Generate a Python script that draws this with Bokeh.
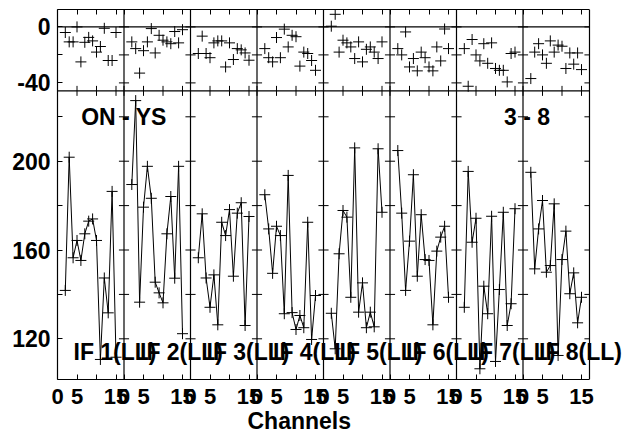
from bokeh.plotting import figure
from bokeh.models import Range1d, LinearAxis, FixedTicker, Span, Label, Title
from bokeh.embed import file_html
from bokeh.resources import INLINE

# ---------------- data ----------------
IF_NAMES = ["IF 1(LL)", "IF 2(LL)", "IF 3(LL)", "IF 4(LL)",
            "IF 5(LL)", "IF 6(LL)", "IF 7(LL)", "IF 8(LL)"]
CHANNELS = [2, 3, 4, 5, 6, 7, 8, 9, 10, 11, 12, 13, 14, 15]

AMP_IF1 = [141.8, 201.8, 156.5, 164.3, 155.3, 167.3, 173.0, 174.0, 164.3, 110.7, 147.4, 131.7, 186.4, 111.7]
AMP_IF2 = [189.5, 227.3, 136.5, 179.3, 197.7, 183.3, 145.5, 140.7, 136.2, 167.3, 184.1, 147.3, 197.7, 122.3]
AMP_IF3 = [156.5, 176.3, 147.4, 134.2, 148.8, 126.3, 172.5, 166.5, 178.2, 148.2, 176.6, 181.3, 126.0, 175.1]
AMP_IF4 = [184.9, 169.5, 149.5, 170.7, 166.5, 131.3, 193.6, 131.8, 124.2, 130.5, 125.0, 172.5, 119.7, 139.5]
AMP_IF5 = [131.5, 115.5, 158.3, 177.8, 174.8, 138.7, 206.0, 132.0, 145.2, 125.0, 132.0, 125.4, 205.6, 177.0]
AMP_IF6 = [204.8, 176.6, 141.8, 164.0, 193.9, 148.2, 175.9, 155.7, 155.3, 126.3, 159.5, 165.8, 170.7, 138.7]
AMP_IF7 = [134.2, 195.4, 163.5, 174.3, 106.5, 143.7, 131.3, 175.2, 109.8, 142.2, 177.0, 126.0, 135.8, 178.6]
AMP_IF8 = [195.0, 151.5, 169.5, 182.3, 150.0, 153.0, 180.8, 112.5, 155.7, 168.5, 140.3, 149.7, 127.2, 138.7]

RES_IF1 = [-4.0, -10.7, -10.7, 0.0, -25.0, -11.0, -7.5, -10.0, -18.0, -14.0, -1.0, -24.0, -24.0, -4.0]
RES_IF2 = [-10.7, -15.5, -33.0, -17.0, -10.7, -1.2, -18.6, -6.0, -9.5, -10.7, -12.0, -3.3, -11.4, -2.0]
RES_IF3 = [-19.0, -6.6, -19.0, -22.0, -11.4, -10.0, -10.0, -28.6, -11.4, -23.3, -15.5, -16.4, -18.6, -23.8]
RES_IF4 = [-15.5, -22.0, -25.0, -7.6, -22.0, -1.6, -14.3, -6.0, -7.0, -28.0, -18.0, -19.0, -24.0, -31.0]
RES_IF5 = [0.5, 9.0, -18.0, -9.5, -11.4, -14.3, -22.6, -10.7, -25.0, -16.0, -14.3, -18.0, -22.6, -10.7]
RES_IF6 = [-15.5, -20.0, -3.6, -28.6, -22.6, -31.4, -18.0, -22.0, -28.6, -31.4, -14.3, -24.3, -1.5, -15.5]
RES_IF7 = [-15.5, -42.4, -9.0, -20.0, -24.3, -12.0, -26.0, -11.4, -29.7, -31.0, -31.0, -39.3, -19.0, -18.0]
RES_IF8 = [-36.9, -18.0, -12.0, -20.0, -26.0, -10.0, -18.0, -13.0, -13.8, -29.7, -18.6, -26.6, -18.6, -30.5]

AMP = [AMP_IF1, AMP_IF2, AMP_IF3, AMP_IF4, AMP_IF5, AMP_IF6, AMP_IF7, AMP_IF8]
RES = [RES_IF1, RES_IF2, RES_IF3, RES_IF4, RES_IF5, RES_IF6, RES_IF7, RES_IF8]

X_TICKS = [0, 5, 10, 15]
X_TICK_LABELS = ["0", "5", "", "15"]
AMP_TICKS = [120, 140, 160, 180, 200, 220]
AMP_TICK_LABELS = ["120", "", "160", "", "200", ""]
RES_TICKS = [0, -20, -40]
RES_TICK_LABELS = ["0", "", "-40"]
SOURCE_TEXT = "ON - YS"
BASELINE_TEXT = "3 - 8"
X_TITLE = "Channels"

# ---------------- geometry / style ----------------
FONT = "Liberation Sans"
YTICK_FS = "23px"
XTICK_FS = "22px"
TXT_FS = "23px"
W = 17.05                 # channel units per IF panel
NP = len(IF_NAMES)
PANELS_W = 532            # pixel width of the boxed plot area
FRAME_W, FRAME_H = 571, 370
PX_X = PANELS_W / (NP * W)
X_END = NP * W
A_PX = 2.22               # px per amplitude unit
A_BOT = 101.67
A_TOP = A_BOT + FRAME_H / A_PX
R_PX = 1.4                # px per residual unit
R_TOP = 12.43
R_BOT = R_TOP - FRAME_H / R_PX
SPLIT_R = -45.7           # residual value at the panel boundary
LW = 1.2


def res_to_amp(v):
    return round(A_BOT + (v - R_BOT) * (A_TOP - A_BOT) / (R_TOP - R_BOT), 4)


p = figure(frame_width=FRAME_W, frame_height=FRAME_H,
           x_range=Range1d(0, X_END + (FRAME_W - PANELS_W) / PX_X),
           y_range=Range1d(A_BOT, A_TOP),
           output_backend="svg", toolbar_location=None,
           x_axis_location=None, y_axis_location=None,
           min_border_left=57, min_border_right=0, min_border_top=9, min_border_bottom=53)
p.extra_y_ranges = {"res": Range1d(R_BOT, R_TOP)}
p.grid.visible = False
p.outline_line_color = None

all_xticks = [i * W + t for i in range(NP) for t in X_TICKS]
all_xlabels = {}
for i in range(NP):
    for t, lab in zip(X_TICKS, X_TICK_LABELS):
        all_xlabels[i * W + t] = lab

y_ticks = list(AMP_TICKS) + [res_to_amp(v) for v in RES_TICKS]
y_labels = {t: l for t, l in zip(AMP_TICKS, AMP_TICK_LABELS)}
for v, l in zip(RES_TICKS, RES_TICK_LABELS):
    y_labels[res_to_amp(v)] = l


def axis(ticks, labels=None, standoff=0, bounds="auto", fs=XTICK_FS):
    ax = LinearAxis(ticker=FixedTicker(ticks=ticks), major_tick_in=5, major_tick_out=0,
                    minor_tick_line_color=None, axis_line_color="black", axis_line_width=LW,
                    major_tick_line_color="black", major_label_standoff=standoff,
                    bounds=bounds)
    if labels is None:
        ax.major_label_text_font_size = "0px"
        ax.major_label_text_alpha = 0
    else:
        ax.major_label_overrides = labels
        ax.major_label_text_font = FONT
        ax.major_label_text_font_style = "bold"
        ax.major_label_text_font_size = fs
        ax.major_label_text_color = "black"
    return ax


p.add_layout(axis(y_ticks, y_labels, 7, fs=YTICK_FS), "left")
p.add_layout(axis(all_xticks, bounds=(0, X_END)), "above")
bx = axis(all_xticks, all_xlabels, 9, bounds=(0, X_END))
bx.major_label_text_line_height = 0.9
p.add_layout(bx, "below")
p.add_layout(Title(text=X_TITLE, align="left", offset=190, standoff=0,
                   vertical_align="middle",
                   text_font=FONT, text_font_style="bold", text_font_size=TXT_FS,
                   text_color="black", text_line_height=1.0), "below")

# IF separators and right edge of the box
for i in range(1, NP + 1):
    p.add_layout(Span(location=i * W, dimension="height", line_color="black", line_width=LW))

# zero line and boundary between the two panels
p.segment(x0=[0, 0], y0=[0, SPLIT_R], x1=[X_END, X_END], y1=[0, SPLIT_R],
          line_color="black", line_width=LW, y_range_name="res")

# ticks crossing separators (only inward on the right edge) and the panel boundary
sx0, sx1, sya = [], [], []
rx0, rx1, syr = [], [], []
for i in range(1, NP + 1):
    right = i * W + (1.3 if i < NP else 0)
    for t in AMP_TICKS:
        sx0.append(i * W - 1.3); sx1.append(right); sya.append(t)
    for t in RES_TICKS:
        rx0.append(i * W - 1.3); rx1.append(right); syr.append(t)
p.segment(x0=sx0, y0=sya, x1=sx1, y1=sya, line_color="black", line_width=1)
p.segment(x0=rx0, y0=syr, x1=rx1, y1=syr, line_color="black", line_width=1, y_range_name="res")
d = 5 / R_PX
p.segment(x0=all_xticks, y0=[SPLIT_R - d] * len(all_xticks), x1=all_xticks,
          y1=[SPLIT_R + d] * len(all_xticks), line_color="black", line_width=1, y_range_name="res")

# data
for i in range(NP):
    xs = [i * W + c for c in CHANNELS]
    p.line(xs, AMP[i], line_color="black", line_width=1)
    p.scatter(xs, AMP[i], marker="cross", size=11, line_color="black", line_width=1)
    p.scatter(xs, RES[i], marker="cross", size=11, line_color="black", line_width=1,
              y_range_name="res")

# texts
for i, name in enumerate(IF_NAMES):
    p.add_layout(Label(x=i * W + 4.1, y=114, text=name, text_font=FONT, text_font_style="bold",
                       text_font_size=TXT_FS, text_color="black", text_baseline="middle"))
p.add_layout(Label(x=6.06, y=220, text=SOURCE_TEXT, text_font=FONT, text_font_style="bold",
                   text_font_size=TXT_FS, text_color="black", text_baseline="middle"))
p.add_layout(Label(x=114.5, y=220, text=BASELINE_TEXT, text_font=FONT, text_font_style="bold",
                   text_font_size=TXT_FS, text_color="black", text_baseline="middle"))

open("out.html", "w").write(file_html(p, INLINE))
